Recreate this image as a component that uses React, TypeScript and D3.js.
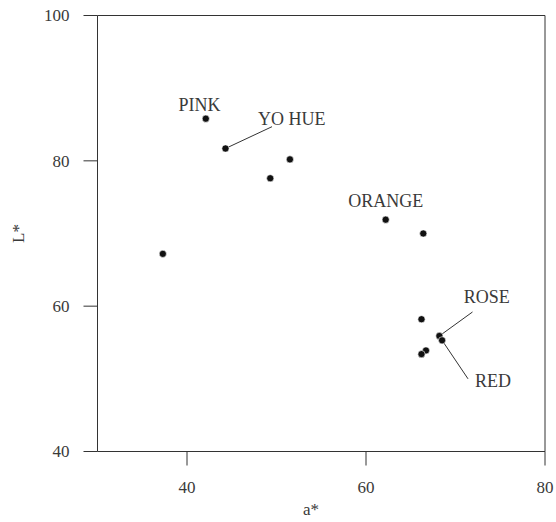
import React from "react";
import * as d3 from "d3";

const aStar = [37.3, 42.1, 44.3, 49.3, 51.5, 62.2, 66.4, 66.2, 68.2, 68.5, 66.7, 66.2];
const lStar = [67.2, 85.8, 81.7, 77.6, 80.2, 71.9, 70.0, 58.2, 55.9, 55.3, 53.9, 53.4];
const pointNames = ["", "PINK", "YO HUE", "", "", "ORANGE", "", "", "ROSE", "RED", "", ""];
// label centre positions in data units (a*, L*)
const labelA = [0, 41.4, 51.7, 0, 0, 62.2, 0, 0, 73.5, 74.2, 0, 0];
const labelL = [0, 87.7, 85.8, 0, 0, 74.5, 0, 0, 61.3, 49.8, 0, 0];
// leader line end (data units); 0 = no leader
const leaderA = [0, 0, 49.5, 0, 0, 0, 0, 0, 71.9, 71.4, 0, 0];
const leaderL = [0, 0, 84.7, 0, 0, 0, 0, 0, 59.2, 50.0, 0, 0];

const xTicks = [40, 60, 80];
const yTicks = [40, 60, 80, 100];

const W = 556;
const H = 522;
const font = "'Liberation Serif', 'DejaVu Serif', serif";
const textColor = "#3a3a3a";
const lineColor = "#333";

export default function App() {
  const x = d3.scaleLinear().domain([30, 80]).range([97.5, 545]);
  const y = d3.scaleLinear().domain([40, 100]).range([451.5, 15.5]);
  const [x0, x1] = x.range();
  const [y0, y1] = y.range();

  return (
    <svg
      width={W}
      height={H}
      style={{ position: "absolute", left: 0, top: 0, background: "#fff" }}
      fontFamily={font}
    >
      {/* frame */}
      <line x1={x0} x2={x0} y1={y1} y2={y0} stroke={lineColor} strokeWidth={1} />
      <line x1={x1} x2={x1} y1={y1} y2={y0} stroke={lineColor} strokeWidth={1} />
      <line x1={x0} x2={x1} y1={y1} y2={y1} stroke={lineColor} strokeWidth={1} />
      <line x1={x0} x2={x1} y1={y0} y2={y0} stroke={lineColor} strokeWidth={1} />

      {/* y ticks */}
      {yTicks.map((t) => (
        <g key={"y" + t}>
          <line x1={x0 - 14} x2={x0} y1={y(t)} y2={y(t)} stroke={lineColor} strokeWidth={1} />
          <text
            x={x0 - 28}
            y={y(t)}
            dy="0.35em"
            textAnchor="end"
            fontSize={17}
            fill={textColor}
          >
            {t}
          </text>
        </g>
      ))}

      {/* x ticks */}
      {xTicks.map((t) => (
        <g key={"x" + t}>
          <line x1={x(t)} x2={x(t)} y1={y0} y2={y0 + 14} stroke={lineColor} strokeWidth={1} />
          <text
            x={x(t)}
            y={y0 + 41}
            textAnchor="middle"
            fontSize={17}
            fill={textColor}
          >
            {t}
          </text>
        </g>
      ))}

      {/* axis titles */}
      <text x={311} y={y0 + 63.5} textAnchor="middle" fontSize={17} fill={textColor}>
        a*
      </text>
      <text
        transform={`translate(24, ${(y0 + y1) / 2}) rotate(-90)`}
        textAnchor="middle"
        fontSize={17}
        fill={textColor}
      >
        L*
      </text>

      {/* leaders */}
      {aStar.map((a, i) =>
        leaderA[i] ? (
          <line
            key={"ld" + i}
            x1={x(a)}
            y1={y(lStar[i])}
            x2={x(leaderA[i])}
            y2={y(leaderL[i])}
            stroke={lineColor}
            strokeWidth={1}
          />
        ) : null
      )}

      {/* points */}
      {aStar.map((a, i) => (
        <circle key={"p" + i} cx={x(a)} cy={y(lStar[i])} r={3.6} fill="#111" stroke="#fff" strokeWidth={0.6} />
      ))}

      {/* labels */}
      {pointNames.map((n, i) =>
        n ? (
          <text
            key={"l" + i}
            x={x(labelA[i])}
            y={y(labelL[i])}
            dy="0.35em"
            textAnchor="middle"
            fontSize={18}
            fill={textColor}
          >
            {n}
          </text>
        ) : null
      )}
    </svg>
  );
}
